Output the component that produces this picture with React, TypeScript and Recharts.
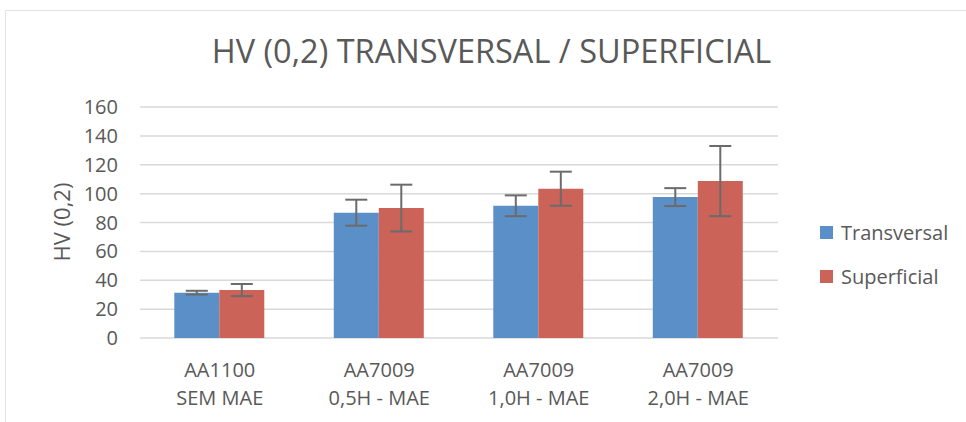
import * as React from "react"
import { BarChart, Bar, XAxis, YAxis, CartesianGrid, ErrorBar, Legend } from "recharts"

const categories = ["AA1100\nSEM MAE", "AA7009\n0,5H - MAE", "AA7009\n1,0H - MAE", "AA7009\n2,0H - MAE"]
const seriesNames = ["Transversal", "Superficial"]
const transversal = [31.4, 86.8, 91.6, 97.6]
const transversalErr = [1.3, 9, 7.2, 6.2]
const superficial = [33.2, 90.0, 103.4, 108.7]
const superficialErr = [4.2, 16.2, 11.8, 24.3]
const yTicks = [0, 20, 40, 60, 80, 100, 120, 140, 160]

const data = categories.map((name, i) => ({
  name,
  transversal: transversal[i],
  transversalErr: transversalErr[i],
  superficial: superficial[i],
  superficialErr: superficialErr[i],
}))

const FONT = "'Open Sans', sans-serif"
const TEXT = "#595959"
const BLUE = "#5b8fc8"
const RED = "#cb6359"

function CategoryTick({ x, y, payload }: any) {
  const lines = String(payload.value).split("\n")
  return (
    <text x={x} y={y} textAnchor="middle" fill={TEXT} fontSize={20} fontFamily={FONT}>
      {lines.map((l, i) => (
        <tspan key={i} x={x} dy={i === 0 ? 39 : 28}>
          {l}
        </tspan>
      ))}
    </text>
  )
}

function LegendBox({ payload }: any) {
  // keep series order (recharts sorts legend items by name)
  const items = seriesNames.map((n) => (payload || []).find((p: any) => p.value === n)).filter(Boolean)
  return (
    <div style={{ fontFamily: FONT, fontSize: 20, color: TEXT }}>
      {items.map((p: any, i: number) => (
        <div key={i} style={{ display: "flex", alignItems: "center", height: 44 }}>
          <span style={{ width: 13, height: 13, background: p.color, display: "inline-block", marginRight: 8 }} />
          <span>{p.value}</span>
        </div>
      ))}
    </div>
  )
}

export default function App() {
  return (
    <div style={{ position: "fixed", left: 0, top: 0, width: 966, height: 422, background: "#fff", overflow: "hidden" }}>
      <div
        style={{
          position: "absolute",
          left: 5,
          top: 10,
          width: 980,
          height: 430,
          border: "1.5px solid #e3e3e3",
        }}
      />
      <div
        style={{
          position: "absolute",
          left: 0,
          width: 983,
          top: 28,
          textAlign: "center",
          fontFamily: FONT,
          fontSize: 32.5,
          color: TEXT,
          whiteSpace: "nowrap",
        }}
      >
        HV (0,2) TRANSVERSAL / SUPERFICIAL
      </div>
      <div style={{ position: "absolute", left: 0, top: 0 }}>
        <BarChart
          width={966}
          height={422}
          data={data}
          margin={{ top: 107, right: 188, bottom: 0, left: 0 }}
          barGap={0}
          barCategoryGap="21.5%"
        >
          <CartesianGrid vertical={false} stroke="#d9d9d9" strokeWidth={1.5} />
          <XAxis
            dataKey="name"
            height={84}
            axisLine={false}
            tickLine={false}
            tickSize={0}
            tickMargin={0}
            interval={0}
            tick={<CategoryTick />}
          />
          <YAxis
            width={140}
            domain={[0, 160]}
            ticks={yTicks}
            axisLine={false}
            tickLine={false}
            tickSize={0}
            tickMargin={22}
            tick={{ fill: TEXT, fontSize: 20, fontFamily: FONT }}
            label={{
              content: () => (
                <text
                  x={61}
                  y={222}
                  transform="rotate(-90 61 222)"
                  textAnchor="middle"
                  dominantBaseline="central"
                  fill={TEXT}
                  fontSize={22}
                  fontFamily={FONT}
                >
                  HV (0,2)
                </text>
              ),
            }}
          />
          <Legend
            layout="vertical"
            align="center"
            verticalAlign="middle"
            content={<LegendBox />}
            wrapperStyle={{ left: 820, top: 210, width: 146 }}
          />
          <Bar dataKey="transversal" name="Transversal" fill={BLUE} isAnimationActive={false}>
            <ErrorBar dataKey="transversalErr" width={11} stroke="#6b6b6b" strokeWidth={2} />
          </Bar>
          <Bar dataKey="superficial" name="Superficial" fill={RED} isAnimationActive={false}>
            <ErrorBar dataKey="superficialErr" width={11} stroke="#6b6b6b" strokeWidth={2} />
          </Bar>
        </BarChart>
      </div>
    </div>
  )
}
